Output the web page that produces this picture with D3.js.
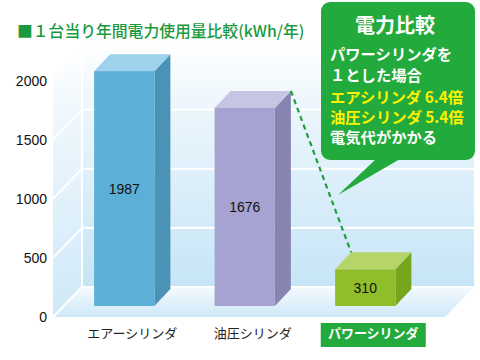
<!DOCTYPE html>
<html><head><meta charset="utf-8">
<script src="https://cdn.jsdelivr.net/npm/d3@7"></script>
<style>body{margin:0;background:#fff}svg{display:block}</style>
</head><body>
<script>
const categories = ["エアーシリンダ", "油圧シリンダ", "パワーシリンダ"];
const values = [1987, 1676, 310];
const yTicks = [0, 500, 1000, 1500, 2000];
const titleText = "■１台当り年間電力使用量比較(kWh/年)";
const calloutTitle = "電力比較";
const calloutLines = [
  {t: "パワーシリンダを", c: "#ffffff"},
  {t: "１とした場合", c: "#ffffff"},
  {t: "エアシリンダ 6.4倍", c: "#fff200"},
  {t: "油圧シリンダ 5.4倍", c: "#fff200"},
  {t: "電気代がかかる", c: "#ffffff"}
];
const barColors = [
  {front: "#5cafd6", side: "#4a93b6", top: "#9dd1ec"},
  {front: "#a6a3d2", side: "#8784b1", top: "#c7c5e4"},
  {front: "#8fbe2a", side: "#76a61e", top: "#b5d568"}
];

const W = 480, H = 360;
const svg = d3.select("body").append("svg").attr("width", W).attr("height", H)
  .style("font-family", "'Noto Sans CJK JP', sans-serif");
const defs = svg.append("defs");

const wallGrad = defs.append("linearGradient").attr("id","wall").attr("x1",0).attr("y1",0).attr("x2",0).attr("y2",1);
wallGrad.append("stop").attr("offset","0%").attr("stop-color","#ffffff");
wallGrad.append("stop").attr("offset","25%").attr("stop-color","#ecf6fc");
wallGrad.append("stop").attr("offset","100%").attr("stop-color","#c6e5f7");
const floorGrad = defs.append("linearGradient").attr("id","floor").attr("x1",0).attr("y1",0).attr("x2",0).attr("y2",1);
floorGrad.append("stop").attr("offset","0%").attr("stop-color","#f4faff");
floorGrad.append("stop").attr("offset","100%").attr("stop-color","#cfe8f8");

// Scales
const depth = {dx: 29, dy: -30};
const yFront = d3.scaleLinear().domain([0, 2000]).range([317, 80.6]);
const barBase = 306;
const yBar = d3.scaleLinear().domain([0, 2000]).range([barBase, barBase - (yFront(0) - yFront(2000))]);
const x = d3.scaleBand().domain(categories).range([64, 425.5]).paddingInner(0.5).paddingOuter(0.25);
const barDepth = {dx: 16, dy: -17};

const wallLeft = 53, wallRight = 445;

// Back wall
const backTop = yFront(2000) + depth.dy - 5;
svg.append("rect").attr("x", wallLeft + depth.dx).attr("y", backTop)
  .attr("width", wallRight - wallLeft).attr("height", yFront(0) + depth.dy - backTop)
  .attr("fill", "url(#wall)");
// Side wall
svg.append("path").attr("fill", "url(#wall)").attr("opacity", 0.85)
  .attr("d", `M${wallLeft},${yFront(0)} L${wallLeft + depth.dx},${yFront(0) + depth.dy} L${wallLeft + depth.dx},${backTop} L${wallLeft},${backTop - depth.dy} Z`);
// Floor
svg.append("path").attr("fill", "url(#floor)")
  .attr("d", `M${wallLeft},${yFront(0)} L${wallLeft + depth.dx},${yFront(0) + depth.dy} L${wallRight + depth.dx},${yFront(0) + depth.dy} L${wallRight},${yFront(0)} Z`);

// Grid lines (back + side)
const gridVals = yTicks.filter(v => v < 2000);
svg.append("g").selectAll("line.back").data(gridVals).join("line")
  .attr("x1", wallLeft + depth.dx).attr("x2", wallRight + depth.dx)
  .attr("y1", d => yFront(d) + depth.dy).attr("y2", d => yFront(d) + depth.dy)
  .attr("stroke", "#ffffff").attr("stroke-width", 2.2);
svg.append("g").selectAll("line.side").data(yTicks).join("line")
  .attr("x1", wallLeft).attr("y1", d => yFront(d))
  .attr("x2", wallLeft + depth.dx).attr("y2", d => yFront(d) + depth.dy)
  .attr("stroke", "#ffffff").attr("stroke-width", 2);
svg.append("line").attr("x1", wallLeft + depth.dx).attr("x2", wallLeft + depth.dx)
  .attr("y1", backTop).attr("y2", yFront(0) + depth.dy).attr("stroke", "#ffffff").attr("stroke-width", 2);

// Y axis labels
svg.append("g").selectAll("text").data(yTicks).join("text")
  .attr("x", 47).attr("y", d => yFront(d) + 5)
  .attr("text-anchor", "end").attr("font-family", "'Liberation Sans', Arial, sans-serif")
  .attr("font-size", 14).attr("fill", "#111").text(d => d);

// Bars
const data = categories.map((c, i) => ({c, v: values[i], col: barColors[i]}));
const bw = x.bandwidth();
const bars = svg.append("g").selectAll("g").data(data).join("g");
bars.append("path").attr("fill", d => d.col.side)
  .attr("d", d => {
    const x1 = x(d.c) + bw, yt = yBar(d.v);
    return `M${x1},${yt} L${x1 + barDepth.dx},${yt + barDepth.dy} L${x1 + barDepth.dx},${barBase + barDepth.dy} L${x1},${barBase} Z`;
  });
bars.append("path").attr("fill", d => d.col.top)
  .attr("d", d => {
    const x0 = x(d.c), x1 = x0 + bw, yt = yBar(d.v);
    return `M${x0},${yt} L${x0 + barDepth.dx},${yt + barDepth.dy} L${x1 + barDepth.dx},${yt + barDepth.dy} L${x1},${yt} Z`;
  });
bars.append("rect").attr("fill", d => d.col.front)
  .attr("x", d => x(d.c)).attr("width", bw)
  .attr("y", d => yBar(d.v)).attr("height", d => barBase - yBar(d.v));
bars.append("text")
  .attr("x", d => x(d.c) + bw / 2).attr("y", d => (yBar(d.v) + barBase) / 2 + 5)
  .attr("text-anchor", "middle").attr("font-family", "'Liberation Sans', Arial, sans-serif")
  .attr("font-size", 14).attr("fill", "#111").text(d => d.v);

// Dashed connector: bar 2 top-back-right corner to bar 3 top-back-left corner
svg.append("line")
  .attr("x1", x(categories[1]) + bw + barDepth.dx).attr("y1", yBar(values[1]) + barDepth.dy)
  .attr("x2", x(categories[2]) + barDepth.dx).attr("y2", yBar(values[2]) + barDepth.dy)
  .attr("stroke", "#1f9e3e").attr("stroke-width", 2.2).attr("stroke-dasharray", "5,4");

// Category labels
const labelY = 338;
data.forEach((d, i) => {
  const cx = x(d.c) + bw / 2 + barDepth.dx / 2;
  if (i === 2) {
    svg.append("rect").attr("x", cx - 52.5).attr("y", 323).attr("width", 105).attr("height", 24).attr("fill", "#22aa3c");
    svg.append("text").attr("x", cx).attr("y", labelY).attr("text-anchor", "middle")
      .attr("font-size", 13).attr("font-weight", "bold").attr("fill", "#fff").text(d.c);
  } else {
    svg.append("text").attr("x", cx).attr("y", labelY).attr("text-anchor", "middle")
      .attr("font-size", 13).attr("fill", "#222").text(d.c);
  }
});

// Title
svg.append("text").attr("x", 17).attr("y", 36.5).attr("font-size", 15.8).attr("font-weight", 500)
  .attr("fill", "#1a9a40").text(titleText);

// Callout
const co = svg.append("g");
co.append("path").attr("fill", "#22aa3c")
  .attr("d", "M376,159 L400,159 L338,195 Z");
co.append("rect").attr("x", 321).attr("y", 2).attr("width", 154).attr("height", 158).attr("rx", 9).attr("fill", "#22aa3c");
co.append("text").attr("x", 395).attr("y", 33).attr("text-anchor", "middle")
  .attr("font-size", 20).attr("font-weight", "bold").attr("fill", "#fff").text(calloutTitle);
const lineY = [59.5, 80.5, 102.5, 122.5, 143];
co.selectAll("text.l").data(calloutLines).join("text")
  .attr("x", 330).attr("y", (d, i) => lineY[i])
  .attr("font-size", 15.3).attr("font-weight", "bold").attr("fill", d => d.c).text(d => d.t);
</script>
</body></html>
